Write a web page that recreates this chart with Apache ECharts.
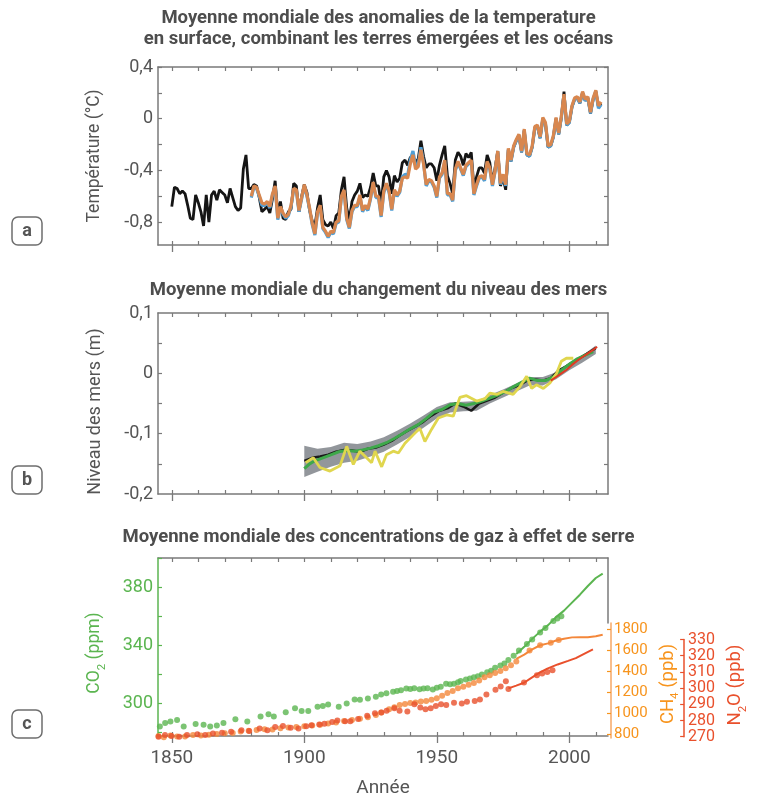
<!DOCTYPE html>
<html><head><meta charset="utf-8">
<script src="https://cdn.jsdelivr.net/npm/echarts@6/dist/echarts.min.js"></script>
<style>html,body{margin:0;padding:0;background:#fff}#c{width:757px;height:799px}</style>
</head><body><div id="c"></div>
<script>
// ---------- Panel a : temperature anomalies (°C) ----------
const tempBlackStart = 1850;
const tempBlack = [
-0.68,-0.53,-0.54,-0.58,-0.56,-0.58,-0.67,-0.77,-0.78,-0.59,
-0.65,-0.72,-0.83,-0.59,-0.80,-0.59,-0.56,-0.63,-0.55,-0.57,
-0.59,-0.65,-0.54,-0.61,-0.68,-0.71,-0.69,-0.39,-0.28,-0.54,
-0.54,-0.51,-0.52,-0.61,-0.72,-0.70,-0.68,-0.73,-0.62,-0.48,
-0.73,-0.64,-0.77,-0.78,-0.72,-0.70,-0.50,-0.52,-0.72,-0.60,
-0.51,-0.57,-0.71,-0.79,-0.83,-0.69,-0.59,-0.78,-0.82,-0.83,
-0.80,-0.85,-0.75,-0.73,-0.55,-0.45,-0.69,-0.78,-0.64,-0.59,
-0.56,-0.50,-0.61,-0.59,-0.60,-0.53,-0.42,-0.52,-0.52,-0.66,
-0.45,-0.40,-0.45,-0.58,-0.44,-0.49,-0.46,-0.34,-0.32,-0.36,
-0.30,-0.29,-0.34,-0.31,-0.17,-0.29,-0.38,-0.35,-0.35,-0.38,
-0.48,-0.36,-0.28,-0.21,-0.44,-0.50,-0.58,-0.32,-0.26,-0.29,
-0.36,-0.27,-0.30,-0.26,-0.53,-0.45,-0.38,-0.38,-0.42,-0.28,
-0.34,-0.50,-0.38,-0.25,-0.52,-0.46,-0.55,-0.24,-0.33,-0.22,
-0.17,-0.13,-0.26,-0.09,-0.28,-0.29,-0.22,-0.07,-0.06,-0.15,
0.00,-0.04,-0.22,-0.21,-0.14,0.00,-0.12,0.01,0.21,-0.05,
-0.03,0.09,0.15,0.16,0.12,0.20,0.14,0.16,0.04,0.15,
0.21,0.09,0.12];
const tempColorStart = 1880;
const tempBlue = [
-0.61,-0.53,-0.54,-0.60,-0.67,-0.67,-0.65,-0.69,-0.59,-0.53,
-0.78,-0.69,-0.74,-0.77,-0.75,-0.68,-0.55,-0.56,-0.72,-0.62,
-0.52,-0.60,-0.70,-0.82,-0.90,-0.73,-0.68,-0.85,-0.88,-0.92,
-0.88,-0.89,-0.81,-0.80,-0.61,-0.56,-0.78,-0.85,-0.72,-0.68,
-0.68,-0.60,-0.72,-0.68,-0.71,-0.62,-0.50,-0.61,-0.61,-0.76,
-0.57,-0.51,-0.57,-0.71,-0.56,-0.60,-0.57,-0.45,-0.43,-0.44,
-0.32,-0.25,-0.36,-0.35,-0.22,-0.34,-0.52,-0.48,-0.49,-0.53,
-0.61,-0.46,-0.43,-0.33,-0.59,-0.59,-0.64,-0.40,-0.34,-0.39,
-0.44,-0.37,-0.35,-0.33,-0.59,-0.52,-0.46,-0.45,-0.48,-0.34,
-0.39,-0.52,-0.41,-0.26,-0.51,-0.44,-0.52,-0.24,-0.33,-0.22,
-0.17,-0.13,-0.26,-0.09,-0.28,-0.29,-0.22,-0.07,-0.06,-0.15,
0.00,-0.04,-0.22,-0.21,-0.14,0.00,-0.12,0.01,0.18,-0.05,
-0.03,0.09,0.15,0.16,0.12,0.20,0.14,0.16,0.04,0.15,
0.21,0.08,0.11];
const tempOrange = [
-0.60,-0.52,-0.53,-0.59,-0.65,-0.66,-0.64,-0.68,-0.58,-0.52,
-0.77,-0.68,-0.73,-0.76,-0.74,-0.67,-0.54,-0.55,-0.71,-0.61,
-0.51,-0.59,-0.69,-0.81,-0.89,-0.72,-0.67,-0.84,-0.87,-0.91,
-0.87,-0.88,-0.80,-0.79,-0.60,-0.55,-0.77,-0.84,-0.71,-0.67,
-0.67,-0.59,-0.71,-0.67,-0.70,-0.61,-0.49,-0.60,-0.60,-0.75,
-0.56,-0.50,-0.56,-0.70,-0.55,-0.59,-0.56,-0.46,-0.45,-0.46,
-0.35,-0.28,-0.39,-0.37,-0.24,-0.35,-0.51,-0.47,-0.48,-0.52,
-0.60,-0.45,-0.42,-0.32,-0.58,-0.58,-0.63,-0.39,-0.33,-0.38,
-0.43,-0.36,-0.34,-0.32,-0.58,-0.51,-0.45,-0.44,-0.47,-0.33,
-0.38,-0.51,-0.40,-0.25,-0.50,-0.43,-0.51,-0.23,-0.32,-0.21,
-0.16,-0.12,-0.25,-0.08,-0.27,-0.28,-0.21,-0.06,-0.05,-0.14,
0.01,-0.03,-0.21,-0.20,-0.13,0.01,-0.11,0.02,0.19,-0.04,
-0.02,0.10,0.16,0.17,0.13,0.21,0.15,0.17,0.05,0.16,
0.22,0.10,0.13];
const tempTicks = [-0.8,-0.6,-0.4,-0.2,0,0.2,0.4];
const tempLabels = [-0.8,-0.4,0,0.4];

// ---------- Panel b : sea level (m) ----------
const slBandYears = [1900,1905,1910,1915,1920,1925,1930,1935,1940,1945,1950,1955,1960,1965,1970,1975,1980,1985,1990,1995,2000,2005,2010];
const slBandLow  = [-0.172,-0.163,-0.155,-0.148,-0.145,-0.138,-0.130,-0.118,-0.105,-0.090,-0.075,-0.065,-0.063,-0.062,-0.050,-0.040,-0.030,-0.020,-0.020,-0.010,0.005,0.018,0.032];
const slBandHigh = [-0.120,-0.125,-0.122,-0.115,-0.117,-0.113,-0.106,-0.095,-0.083,-0.070,-0.056,-0.048,-0.047,-0.046,-0.036,-0.027,-0.017,-0.006,-0.006,0.002,0.018,0.030,0.046];
const slBlackYears = [1900,1903,1906,1909,1912,1915,1918,1921,1924,1927,1930,1933,1936,1939,1942,1945,1948,1951,1954,1957,1960,1963,1966,1969,1972,1975,1978,1981,1984,1987,1990,1993,1996,1999,2002,2005,2008,2010];
const slBlack = [-0.145,-0.140,-0.138,-0.135,-0.130,-0.127,-0.128,-0.130,-0.125,-0.123,-0.118,-0.112,-0.103,-0.095,-0.088,-0.080,-0.070,-0.062,-0.058,-0.050,-0.055,-0.062,-0.050,-0.045,-0.040,-0.032,-0.025,-0.020,-0.012,-0.010,-0.012,-0.008,0.005,0.012,0.020,0.028,0.036,0.042];
const slGreenYears = [1900,1902,1904,1907,1910,1913,1916,1919,1922,1925,1928,1931,1934,1937,1940,1943,1946,1949,1952,1955,1958,1961,1964,1967,1970,1973,1976,1979,1982,1985,1988,1991,1994,1997,2000,2003,2006,2009];
const slGreen = [-0.158,-0.150,-0.145,-0.140,-0.135,-0.130,-0.128,-0.129,-0.127,-0.124,-0.120,-0.115,-0.108,-0.100,-0.092,-0.085,-0.075,-0.064,-0.060,-0.052,-0.050,-0.053,-0.050,-0.046,-0.041,-0.036,-0.030,-0.022,-0.015,-0.008,-0.012,-0.012,-0.006,0.005,0.015,0.024,0.030,0.036];
const slYellowYears = [1900.5,1903.4,1905.9,1909.7,1913.5,1916,1918.5,1921,1923.5,1925.4,1926.7,1929.2,1931,1933.6,1935.5,1938,1941.1,1943.6,1945.5,1948,1950.6,1953.7,1956.2,1958.7,1961.2,1965,1968.2,1970,1972.6,1975,1978.8,1981.4,1983.9,1985.8,1987.6,1990.2,1992.7,1995.2,1997,1998.9,2001.5];
const slYellow = [-0.148,-0.140,-0.156,-0.162,-0.153,-0.121,-0.151,-0.129,-0.140,-0.148,-0.129,-0.155,-0.135,-0.129,-0.132,-0.116,-0.102,-0.091,-0.113,-0.093,-0.074,-0.069,-0.071,-0.040,-0.037,-0.046,-0.042,-0.033,-0.035,-0.030,-0.035,-0.022,-0.005,-0.025,-0.019,-0.025,-0.016,0.000,0.020,0.025,0.025];
const slRedYears = [1993,1995,1997,1999,2001,2003,2005,2007,2009,2010.5];
const slRed = [-0.012,-0.006,0.000,0.006,0.014,0.021,0.027,0.033,0.039,0.044];
const slTicks = [-0.15,-0.1,-0.05,0,0.05];
const slLabels = [-0.2,-0.1,0,0.1];

// ---------- Panel c : greenhouse gases ----------
const co2DotYears = [1845.5,1847.5,1849.5,1852,1854.5,1859,1862,1864.5,1867,1869.5,1874,1878.5,1883.5,1886.5,1888.5,1893,1896.5,1899,1901.5,1905,1907,1909,1913,1916,1919,1921,1924,1927,1929,1931,1933.5,1935,1936.5,1938.5,1940,1941.5,1943.5,1945,1946.5,1948.5,1950,1951.5,1953.5,1955,1956.5,1958,1959,1961,1962.5,1964,1965.5,1967,1969,1970.5,1972,1974,1975.5,1977,1979,1981,1984,1986,1989,1991,1994,1995.5,1997];
const co2Dots = [284.1,286.4,287.5,288.6,284.1,285.7,285.2,284.1,284.8,286.4,289.1,287.5,290.9,292.5,290.9,293.9,296.6,294.8,294.8,297.7,298.2,299.3,297.7,300,302.7,302.5,303.4,304.5,306.1,307,308,308.5,309,310.2,310,310.5,309.8,310.3,310.5,309.5,310.8,311.5,313.6,313.2,313.5,314.5,315.4,316.5,317.2,318.1,318.8,320,321.5,322.5,324.5,326.1,327.5,330,332.9,336.5,340.9,344,348.9,352,356.8,358.5,360.2];
const co2LineYears = [1980,1983,1986,1989,1992,1995,1998,2001,2004,2007,2010,2012.6];
const co2Line = [334,339,344.5,349.5,354,359.5,364,369.5,375,381,386.5,389.5];
const ch4DotYears = [1845,1847,1849.5,1852,1855,1858,1861,1864,1867,1870,1873,1876,1879,1882,1885,1888,1891,1894,1897,1900,1903,1906,1909,1912,1915,1918,1921,1924,1927,1929,1932,1934,1936,1938,1940,1942,1944,1946,1948,1950,1952,1954,1956,1958,1960,1962,1964,1966,1968,1970,1972,1974,1976,1978,1980,1985,1989,1993,1996];
const ch4Dots = [785,775,790,782,780,795,790,798,805,812,815,828,835,842,850,848,860,866,872,878,885,892,905,915,928,938,950,965,985,1010,1040,1060,1080,1090,1100,1105,1115,1120,1130,1145,1170,1195,1215,1240,1255,1275,1290,1315,1345,1365,1385,1405,1430,1460,1495,1600,1650,1675,1700];
const ch4LineYears = [1980,1983,1986,1989,1992,1995,1998,2001,2004,2007,2010,2012.6];
const ch4Line = [1520,1560,1610,1650,1668,1695,1712,1725,1727,1727,1735,1750];
const n2oDotYears = [1845,1847.5,1850,1853,1856,1860,1863,1866,1869.5,1873,1877,1880,1884,1887,1890,1893,1896,1899,1902,1904,1907,1909,1912,1914,1917,1919,1922,1925.5,1928.5,1931,1933,1936,1938,1941,1943.7,1946,1948,1950,1952,1954,1956,1959,1962,1964,1967,1969,1971.5,1975,1977,1979,1980,1986,1991,1993,1995,1997];
const n2oDots = [270,271,270.5,270,271,271.5,271,272,272.5,273,274,273.5,275,274,276,276.6,275.5,275,276.5,277,277.5,278,279,280,279.5,279.6,281,283,284.4,285,286,287.5,286,285.5,290,288,287,287.5,289,290,289.5,291,290.5,291.5,292,293,296,299,301,304.3,299.5,303.5,308,309,310,311];
const n2oLineYears = [1980,1983,1986,1989,1992,1995,1999,2003,2006,2009,2012.6];
const n2oLine = [299.8,301.5,303.3,306.5,309.5,312,314.6,316.8,318.5,321,323.9];
const co2Ticks = [280,300,320,340,360,380,400];
const co2Labels = [300,340,380];
const ch4Ticks = [800,1000,1200,1400,1600,1800];
const n2oTicks = [270,280,290,300,310,320,330];

// ---------- X axis ----------
const majorYears = [1850,1900,1950,2000];
const decadeYears = [1850,1860,1870,1880,1890,1900,1910,1920,1930,1940,1950,1960,1970,1980,1990,2000,2010];

// ---------- build ----------
const XMIN = 1844.8, XMAX = 2014.6;
const AX = '#7a7a7a', TXT = '#555555', FONT = 'Roboto';
const GREEN = '#5bb550', CH4C = '#f7941d', CH4D = '#f4873a', N2OC = '#e9502c';
const pairs = (xs, ys) => ys.map((v, i) => [xs[i], v]);
const seq = (start, ys) => ys.map((v, i) => [start + i, v]);
const comma = v => (v === 0 ? '0' : String(v).replace('.', ','));

function xAxesFor(g, labels) {
  const base = {type: 'value', gridIndex: g, min: XMIN, max: XMAX, splitLine: {show: false}};
  return [
    Object.assign({}, base, {
      position: 'bottom',
      axisLine: {show: true, onZero: false, lineStyle: {color: AX, width: 1.5}},
      axisTick: {show: true, customValues: majorYears, inside: false, length: 7, lineStyle: {color: AX, width: 1.3}},
      axisLabel: {show: labels, customValues: majorYears, formatter: v => String(v), fontSize: 19, color: TXT, fontFamily: FONT, margin: 13},
      name: labels ? 'Année' : '', nameLocation: 'middle', nameGap: 43,
      nameTextStyle: {fontSize: 19, color: TXT, fontFamily: FONT}
    }),
    Object.assign({}, base, {
      position: 'bottom',
      axisLine: {show: false, onZero: false},
      axisTick: {show: true, customValues: decadeYears, inside: true, length: 4, lineStyle: {color: AX, width: 1.2}},
      axisLabel: {show: false}
    }),
    Object.assign({}, base, {
      position: 'top',
      axisLine: {show: true, onZero: false, lineStyle: {color: AX, width: 1.5}},
      axisTick: {show: true, customValues: decadeYears, inside: true, length: 4, lineStyle: {color: AX, width: 1.2}},
      axisLabel: {show: false}
    })
  ];
}
function hiddenX(g) {
  return {type: 'value', gridIndex: g, min: XMIN, max: XMAX, show: false};
}

const xAxis = [].concat(xAxesFor(0, false), xAxesFor(1, false), xAxesFor(2, true), [hiddenX(3), hiddenX(4), hiddenX(5)]);

function leftY(g, min, max, ticks, labels, name, color, fmt, gap, nameSize, pad, rich) {
  return {
    type: 'value', gridIndex: g, position: 'left', min: min, max: max,
    axisLine: {show: true, onZero: false, lineStyle: {color: color, width: 1.5}},
    axisTick: {show: true, customValues: ticks, inside: true, length: 4, lineStyle: {color: color, width: 1.2}},
    axisLabel: {show: true, customValues: labels, formatter: fmt, fontSize: 18, color: color === AX ? TXT : color, fontFamily: FONT, margin: 5},
    splitLine: {show: false},
    name: name, nameLocation: 'middle', nameGap: gap,
    nameTextStyle: {fontSize: nameSize, color: color === AX ? TXT : color, fontFamily: FONT, padding: pad, rich: rich}
  };
}
function rightFrame(g, min, max, ticks) {
  return {
    type: 'value', gridIndex: g, position: 'right', min: min, max: max,
    axisLine: {show: true, onZero: false, lineStyle: {color: AX, width: 1.5}},
    axisTick: {show: !!ticks, customValues: ticks || [], inside: true, length: 4, lineStyle: {color: AX, width: 1.2}},
    axisLabel: {show: false}, splitLine: {show: false}
  };
}
const sub = c => ({s: {fontSize: 11.5, color: c, fontFamily: FONT, verticalAlign: 'bottom', padding: [0, 0, -4, 0]}});

const yAxis = [
  leftY(0, -0.977, 0.4, tempTicks, tempLabels, 'Température (°C)', AX, comma, 54, 17.5, [0, 0, 0, 0]),
  rightFrame(0, -0.977, 0.4, tempTicks),
  leftY(1, -0.2, 0.1, slTicks, slLabels, 'Niveau des mers (m)', AX, comma, 54, 18, [0, 16, 0, 0]),
  rightFrame(1, -0.2, 0.1, slTicks),
  leftY(2, 277.5, 400.3, co2Ticks, co2Labels, 'CO{s|2} (ppm)', GREEN, v => String(v), 54, 17.5, [0, 12, 0, 0], sub(GREEN)),
  {
    type: 'value', gridIndex: 3, position: 'right', offset: 3, min: 766.7, max: 1861.9,
    axisLine: {show: true, onZero: false, lineStyle: {color: '#f6a766', width: 1.5}},
    axisTick: {show: true, customValues: ch4Ticks, inside: true, length: 4, lineStyle: {color: CH4C, width: 1.2}},
    axisLabel: {show: true, customValues: ch4Ticks, formatter: v => String(v), fontSize: 15, color: CH4C, fontFamily: FONT, margin: 3},
    splitLine: {show: false},
    name: 'CH{s|4} (ppb)', nameLocation: 'middle', nameGap: 28,
    nameTextStyle: {fontSize: 18.5, color: CH4C, fontFamily: FONT, padding: [0, 7, 0, 0], rich: sub(CH4C)}
  },
  {
    type: 'value', gridIndex: 4, position: 'right', offset: 86, min: 270, max: 330,
    axisLine: {show: true, onZero: false, lineStyle: {color: N2OC, width: 1.5}},
    axisTick: {show: true, customValues: n2oTicks, inside: true, length: 4, lineStyle: {color: N2OC, width: 1.2}},
    axisLabel: {show: true, customValues: n2oTicks, formatter: v => String(v), fontSize: 16, color: N2OC, fontFamily: FONT, margin: 4},
    splitLine: {show: false},
    name: 'N{s|2}O (ppb)', nameLocation: 'middle', nameGap: 37,
    nameTextStyle: {fontSize: 18.5, color: N2OC, fontFamily: FONT, padding: [0, 0, 0, 6], rich: sub(N2OC)}
  },
  rightFrame(5, 0, 1, null)
];

const grid = [
  {left: 158, top: 67, width: 450, height: 178},
  {left: 158, top: 313, width: 450, height: 181},
  {left: 158, top: 558, width: 450, height: 180},
  {left: 158, top: 623, width: 450, height: 115},
  {left: 158, top: 639.5, width: 450, height: 97.2},
  {left: 158, top: 558, width: 450, height: 65}
];

const lineS = (xi, yi, data, color, width, z) => ({
  type: 'line', xAxisIndex: xi, yAxisIndex: yi, data: data, showSymbol: false, symbol: 'none',
  lineStyle: {color: color, width: width}, z: z, silent: true
});
const dotS = (xi, yi, data, color) => ({
  type: 'scatter', xAxisIndex: xi, yAxisIndex: yi, data: data, symbolSize: 6, clip: false,
  itemStyle: {color: color}, z: 3, silent: true
});

const series = [
  lineS(0, 0, seq(tempBlackStart, tempBlack), '#151515', 2.8, 2),
  lineS(0, 0, seq(tempColorStart, tempBlue), '#4f9fd6', 3.2, 3),
  lineS(0, 0, seq(tempColorStart, tempOrange), '#d8874f', 3.2, 4),
  {
    type: 'custom', xAxisIndex: 3, yAxisIndex: 2, silent: true, z: 1,
    data: slBandYears.map((y, i) => [y, slBandLow[i], slBandHigh[i]]),
    encode: {x: 0, y: [1, 2]},
    renderItem: function (params, api) {
      if (params.dataIndex !== 0) return null;
      const pts = [];
      for (let i = 0; i < slBandYears.length; i++) pts.push(api.coord([slBandYears[i], slBandHigh[i]]));
      for (let i = slBandYears.length - 1; i >= 0; i--) pts.push(api.coord([slBandYears[i], slBandLow[i]]));
      return {type: 'polygon', shape: {points: pts}, style: {fill: 'rgba(100,106,112,0.7)'}};
    }
  },
  lineS(3, 2, pairs(slBlackYears, slBlack), '#1a1a1a', 2.5, 2),
  lineS(3, 2, pairs(slGreenYears, slGreen), '#3ea84a', 3, 3),
  lineS(3, 2, pairs(slYellowYears, slYellow), '#e0d64e', 2.8, 4),
  lineS(3, 2, pairs(slRedYears, slRed), '#e03a23', 2, 5),
  dotS(6, 4, pairs(co2DotYears, co2Dots), GREEN),
  lineS(6, 4, pairs(co2LineYears, co2Line), GREEN, 2, 3),
  dotS(9, 5, pairs(ch4DotYears, ch4Dots), CH4D),
  lineS(9, 5, pairs(ch4LineYears, ch4Line), CH4D, 2, 3),
  dotS(10, 6, pairs(n2oDotYears, n2oDots), N2OC),
  lineS(10, 6, pairs(n2oLineYears, n2oLine), N2OC, 2, 3)
];

const titleStyle = t => ({fill: '#4d4d4d', text: t, fontSize: 18.5, fontWeight: 'bold', fontFamily: FONT, align: 'center', verticalAlign: 'top', lineHeight: 21});
const letter = (ch, cy) => [
  {type: 'rect', shape: {x: 12, y: cy - 14, width: 30, height: 28, r: 6}, style: {fill: '#fff', stroke: '#6e6e6e', lineWidth: 1.5}},
  {type: 'text', x: 27, y: cy, style: {text: ch, fill: '#555', fontSize: 18, fontWeight: 'bold', fontFamily: FONT, align: 'center', verticalAlign: 'middle'}}
];

const graphic = [
  {type: 'text', x: 378.5, y: 7.5, style: titleStyle('Moyenne mondiale des anomalies de la temperature\nen surface, combinant les terres émergées et les océans')},
  {type: 'text', x: 378.5, y: 279.5, style: titleStyle('Moyenne mondiale du changement du niveau des mers')},
  {type: 'text', x: 378.5, y: 526.5, style: titleStyle('Moyenne mondiale des concentrations de gaz à effet de serre')}
].concat(letter('a', 231), letter('b', 480), letter('c', 724));

const chart = echarts.init(document.getElementById('c'), null, {renderer: 'canvas'});
chart.setOption({
  animation: false,
  backgroundColor: '#ffffff',
  textStyle: {fontFamily: FONT},
  grid: grid, xAxis: xAxis, yAxis: yAxis, series: series, graphic: graphic
});
</script></body></html>
